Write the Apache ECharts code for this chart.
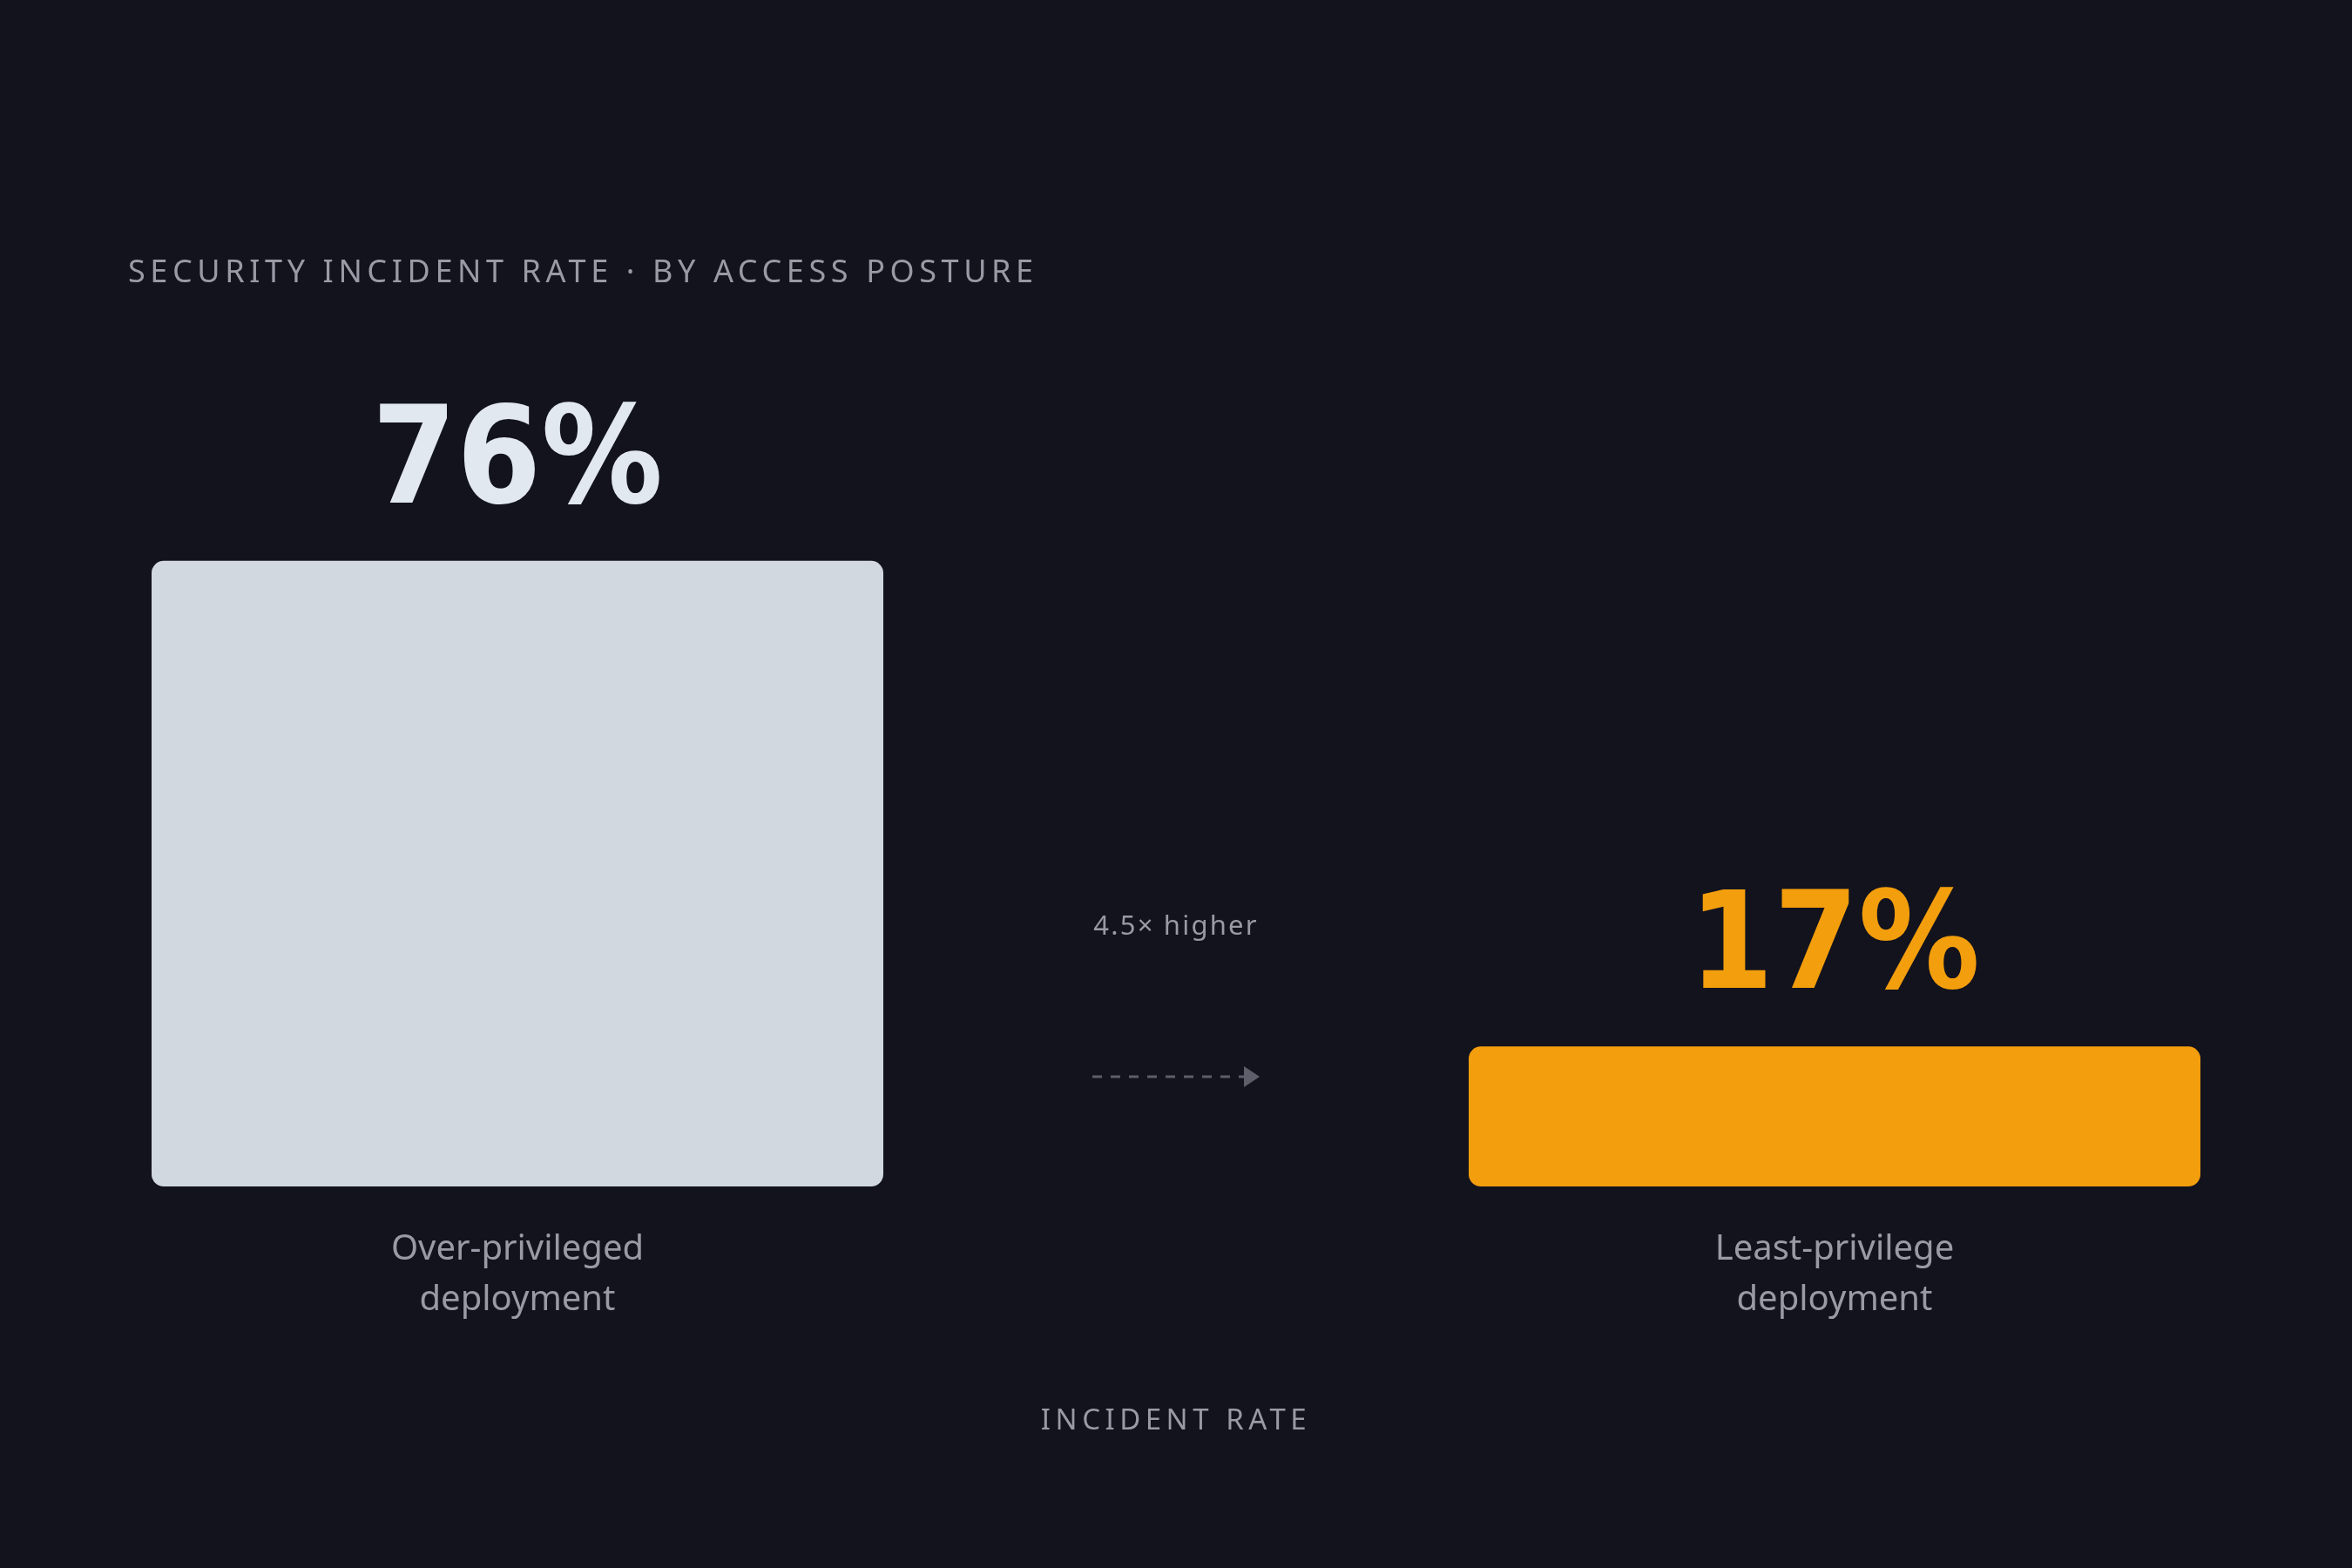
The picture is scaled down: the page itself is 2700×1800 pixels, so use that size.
<!DOCTYPE html>
<html>
<head>
<meta charset="utf-8">
<script src="https://cdn.jsdelivr.net/npm/echarts@6/dist/echarts.min.js"></script>
<style>
html,body{margin:0;padding:0;background:#13131e;}
#chart{width:2700px;height:1800px;}
</style>
</head>
<body>
<div id="chart"></div>
<script>
const titleText = 'SECURITY INCIDENT RATE · BY ACCESS POSTURE';
const categories = ['Over-privileged\ndeployment', 'Least-privilege\ndeployment'];
const values = [76, 17];
const barColors = ['#d1d8e0', '#f39e0c'];
const valueLabelColors = ['#e2e8f0', '#f39e0c'];
const axisName = 'INCIDENT RATE';
const ratioText = '4.5× higher';

// Tracking (letter spacing) for the small captions, keyed by font size.
const trackingBySize = { '36': '5.6px', '33': '5.5px', '31': '2.2px' };
(function () {
  const proto = CanvasRenderingContext2D.prototype;
  const origFill = proto.fillText;
  proto.fillText = function (t, x, y, w) {
    if ('letterSpacing' in this) {
      const m = /(\d+(?:\.\d+)?)px/.exec(this.font || '');
      this.letterSpacing = (m && trackingBySize[m[1]]) || '0px';
    }
    if (w === undefined) origFill.call(this, t, x, y); else origFill.call(this, t, x, y, w);
    if ('letterSpacing' in this) this.letterSpacing = '0px';
  };
})();

const chart = echarts.init(document.getElementById('chart'));
const FONT = '"Noto Sans", sans-serif';
const option = {
  backgroundColor: '#13131e',
  animation: false,
  title: {
    text: titleText,
    left: 142,
    top: 291,
    textStyle: { color: '#9a9aa6', fontSize: 36, fontWeight: 'normal', fontFamily: FONT }
  },
  grid: { left: 594, right: 594, top: 417, bottom: 438 },
  xAxis: {
    type: 'category',
    data: categories,
    boundaryGap: false,
    axisLine: { show: false },
    axisTick: { show: false },
    axisLabel: {
      color: '#9a9aa6', fontSize: 40, lineHeight: 58, margin: 44,
      fontFamily: FONT, interval: 0
    },
    name: axisName,
    nameLocation: 'middle',
    nameGap: 253,
    nameTextStyle: { color: '#9a9aa6', fontSize: 33, fontFamily: FONT }
  },
  yAxis: {
    type: 'value', min: 0, max: 100, show: false,
    splitLine: { show: false }
  },
  series: [{
    type: 'bar',
    clip: false,
    barWidth: 840,
    data: values.map((v, i) => ({
      value: v,
      itemStyle: { color: barColors[i], borderRadius: 14 },
      label: { color: valueLabelColors[i] }
    })),
    label: {
      show: true,
      position: 'top',
      distance: 30,
      formatter: '{c}%',
      fontSize: 155,
      fontWeight: 'bold',
      fontFamily: '"DejaVu Sans Condensed", "DejaVu Sans", sans-serif'
    }
  }],
  graphic: [
    {
      type: 'text',
      x: 1350,
      y: 1049,
      style: { text: ratioText, fill: '#9a9aa6', fontSize: 31, fontFamily: FONT, align: 'center', verticalAlign: 'top' }
    },
    {
      type: 'line',
      shape: { x1: 1254, y1: 1236, x2: 1432, y2: 1236 },
      style: { stroke: '#5e5e6b', lineWidth: 3, lineDash: [11, 10] }
    },
    {
      type: 'polygon',
      shape: { points: [[1428, 1224], [1446, 1236], [1428, 1248]] },
      style: { fill: '#5e5e6b' }
    }
  ]
};
chart.setOption(option);
</script>
</body>
</html>
